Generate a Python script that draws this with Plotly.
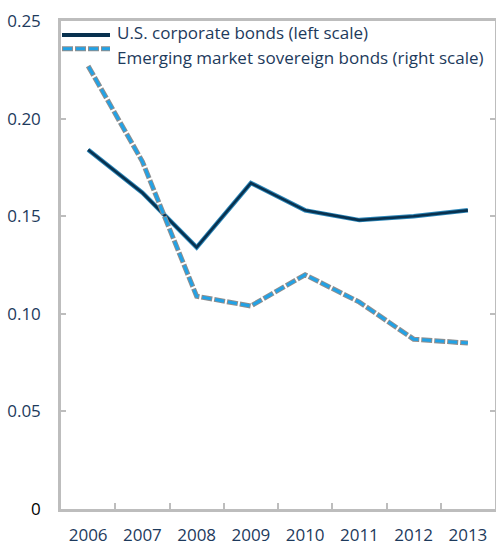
import plotly.graph_objects as go

years = ["2006", "2007", "2008", "2009", "2010", "2011", "2012", "2013"]
us_corporate = [0.184, 0.162, 0.134, 0.167, 0.153, 0.148, 0.150, 0.153]
em_sovereign = [0.227, 0.178, 0.109, 0.104, 0.120, 0.106, 0.087, 0.085]

y_ticks = [0, 0.05, 0.10, 0.15, 0.20, 0.25]
y_tick_text = ['<span style="color:#000000">0</span>', "0.05", "0.10", "0.15", "0.20", "0.25"]

NAVY = "#1d3a5c"
AXIS = "#bdbdbd"
FONT = "Open Sans, Noto Sans, sans-serif"
FS = 17

W, H = 496, 547
ML, MR, MT, MB = 61, 1, 21, 35
PW, PH = W - ML - MR, H - MT - MB


def px_x(px):
    return (px - ML) / PW


def px_y(py):
    return (H - MB - py) / PH


fig = go.Figure()

# U.S. corporate bonds: dark core over a blue halo
fig.add_trace(go.Scatter(x=years, y=us_corporate, mode="lines",
                         line=dict(color="#2b86b8", width=4.5),
                         hoverinfo="skip", showlegend=False))
fig.add_trace(go.Scatter(x=years, y=us_corporate, mode="lines",
                         line=dict(color="#08314f", width=2.6),
                         name="U.S. corporate bonds (left scale)", showlegend=False))

# Emerging market sovereign bonds: blue dashes with grey outline
fig.add_trace(go.Scatter(x=years, y=em_sovereign, mode="lines", yaxis="y2",
                         line=dict(color="#8e8e8e", width=5, dash="11px,2px"),
                         hoverinfo="skip", showlegend=False))
fig.add_trace(go.Scatter(x=years, y=em_sovereign, mode="lines", yaxis="y2",
                         line=dict(color="#22a2e6", width=3, dash="0px,1px,9px,3px"),
                         name="Emerging market sovereign bonds (right scale)", showlegend=False))

# Hand-drawn legend in the top-left corner of the plot
x0, x1 = px_x(62), px_x(110)
shapes = [
    dict(type="line", xref="paper", yref="paper", x0=x0, x1=x1, y0=px_y(35), y1=px_y(35),
         line=dict(color="#08314f", width=4)),
    dict(type="line", xref="paper", yref="paper", x0=x0, x1=x1, y0=px_y(49), y1=px_y(49),
         line=dict(color="#8e8e8e", width=5, dash="11px,2px")),
    dict(type="line", xref="paper", yref="paper", x0=x0, x1=x1, y0=px_y(49), y1=px_y(49),
         line=dict(color="#22a2e6", width=3, dash="0px,1px,9px,3px")),
]
annotations = [
    dict(xref="paper", yref="paper", x=px_x(115), y=px_y(33), xanchor="left", yanchor="middle",
         text="U.S. corporate bonds (left scale)", showarrow=False,
         font=dict(family=FONT, size=FS, color=NAVY)),
    dict(xref="paper", yref="paper", x=px_x(115), y=px_y(58), xanchor="left", yanchor="middle",
         text="Emerging market sovereign bonds (right scale)", showarrow=False,
         font=dict(family=FONT, size=FS, color=NAVY)),
]

fig.update_layout(
    width=W, height=H,
    margin=dict(l=ML, r=MR, t=MT, b=MB, pad=0),
    paper_bgcolor="white", plot_bgcolor="white",
    font=dict(family=FONT, size=FS, color=NAVY),
    shapes=shapes, annotations=annotations,
    xaxis=dict(type="category", categoryorder="array", categoryarray=years,
               range=[-0.5, len(years) - 0.5],
               showline=True, linecolor=AXIS, linewidth=2.5, mirror=True,
               ticks="inside", tickson="boundaries", ticklen=6, tickwidth=2, tickcolor=AXIS,
               showgrid=False, zeroline=False, ticklabelstandoff=9,
               tickfont=dict(family=FONT, size=FS, color=NAVY)),
    yaxis=dict(range=[0, 0.25], tickvals=y_ticks, ticktext=y_tick_text,
               showline=True, linecolor=AXIS, linewidth=2.5, mirror=False,
               ticks="inside", ticklen=5, tickwidth=2, tickcolor=AXIS,
               showgrid=False, zeroline=False, ticklabelstandoff=14,
               tickfont=dict(family=FONT, size=FS, color=NAVY)),
    yaxis2=dict(range=[0, 0.25], tickvals=y_ticks, overlaying="y", side="right",
                showline=True, linecolor=AXIS, linewidth=2.5,
                ticks="inside", ticklen=5, tickwidth=2, tickcolor=AXIS,
                showticklabels=False, showgrid=False, zeroline=False),
)

fig.write_html("out.html")
